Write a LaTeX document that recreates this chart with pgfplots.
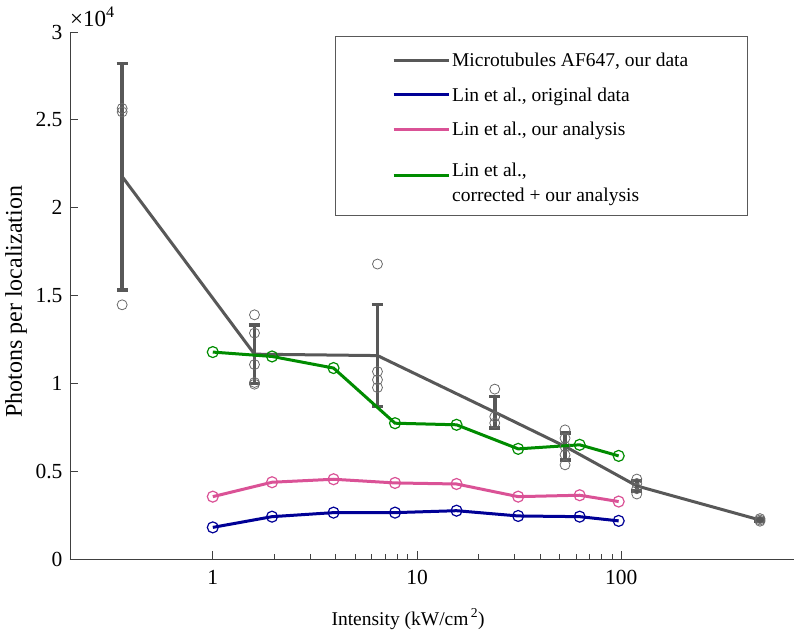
\documentclass[border=0pt]{standalone}
\usepackage{pgfplots}
\pgfplotsset{compat=1.18}
\usepackage{fontspec}
\setmainfont{Liberation Serif}
\definecolor{cgray}{RGB}{88,88,88}
\definecolor{cdot}{RGB}{105,105,105}
\definecolor{cblue}{RGB}{0,0,150}
\definecolor{cpink}{RGB}{218,82,150}
\definecolor{cgreen}{RGB}{0,140,0}
\newcommand\lgd[1]{\rule[-5pt]{0pt}{19pt}#1}

\pgfplotstableread{
x y e
0.36 21770 6450
1.6 11660 1670
6.4 11580 2900
24 8360 900
53 6410 770
119 4160 300
477 2220 80
}\meandata

\pgfplotstableread{
x y
0.36 25650
0.36 25450
0.36 14470
1.6 13900
1.6 12860
1.6 11070
1.6 10050
1.6 9950
6.4 16790
6.4 10670
6.4 10200
6.4 9760
24 9670
24 8100
24 7740
53 7350
53 6880
53 6400
53 5930
53 5360
119 4550
119 4300
119 4000
119 3700
477 2300
477 2220
477 2150
}\scatterdata

\pgfplotstableread{
x blue pink green
1 1800 3550 11780
1.95 2410 4370 11530
3.9 2640 4540 10870
7.8 2640 4330 7730
15.6 2750 4270 7640
31.25 2450 3550 6270
62.5 2410 3630 6500
97 2170 3270 5870
}\lindata

\begin{document}
\begin{tikzpicture}
\useasboundingbox (0,0) rectangle (800pt,635pt);
\begin{axis}[
  scale only axis, width=724pt, height=527pt,
  at={(70pt,76pt)}, anchor=south west,
  xmode=log, xmin=0.2, xmax=700, ymin=0, ymax=30000,
  axis x line=bottom, axis y line=left,
  axis line style={-, black!75, line width=0.9pt},
  tick align=inside, major tick length=8pt, minor tick length=5pt,
  every tick/.style={black!75, line width=0.9pt},
  xtick={1,10,100}, xticklabels={1,10,100},
  ytick={0,5000,10000,15000,20000,25000,30000},
  scaled y ticks=base 10:-4,
  ytick scale label code/.code={×10\textsuperscript{4}},
  every y tick scale label/.style={at={(rel axis cs:0,1)}, anchor=base west, inner sep=0pt, xshift=4pt, yshift=5pt, font=\fontsize{23}{23}\selectfont},
  /pgf/number format/assume math mode=true,
  ticklabel style={font=\fontsize{21.5}{21.5}\selectfont},
  yticklabel style={xshift=-4pt},
  xticklabel style={yshift=-8pt},
  xlabel={Intensity (kW/cm\textsuperscript{\,2})},
  xlabel style={at={(rel axis cs:0.467,0)}, anchor=base, yshift=-66pt, font=\fontsize{19.5}{19.5}\selectfont},
  ylabel={Photons per localization},
  ylabel style={at={(rel axis cs:0,0.488)}, anchor=center, yshift=54pt, font=\fontsize{24}{24}\selectfont},
  legend style={at={(rel axis cs:0.936,0.992)}, anchor=north east, draw=black!65, line width=0.8pt, fill=white,
    inner xsep=57pt, inner ysep=14pt, row sep=15pt, column sep=0pt, font=\fontsize{19.5}{25}\selectfont},
  legend cell align=left,
  legend image code/.code={\draw[#1, mark=none, line width=3pt] (0pt,0pt) -- (55pt,0pt);},
]
\addplot[cgray, line width=3pt, mark=none,
  error bars/.cd, y dir=both, y explicit, error mark=-,
  error bar style={line width=3.5pt, cgray},
  error mark options={rotate=90, cgray, line width=3.5pt, mark size=5.5pt}]
  table[x=x, y=y, y error=e] {\meandata};
\addlegendentry{\lgd{Microtubules AF647, our data}}
\addplot[only marks, mark=o, mark size=5pt, cdot, mark options={line width=0.8pt}, forget plot]
  table[x=x, y=y] {\scatterdata};
\addplot[cblue, line width=3pt, mark=o, mark size=5.5pt, mark options={line width=1.2pt}]
  table[x=x, y=blue] {\lindata};
\addlegendentry{\lgd{Lin et al., original data}}
\addplot[cpink, line width=3pt, mark=o, mark size=5.5pt, mark options={line width=1.2pt}]
  table[x=x, y=pink] {\lindata};
\addlegendentry{\lgd{Lin et al., our analysis}}
\addplot[cgreen, line width=3pt, mark=o, mark size=5.5pt, mark options={line width=1.2pt},
  legend image post style={yshift=2.5pt}]
  table[x=x, y=green] {\lindata};
\addlegendentry{\lgd{\begin{tabular}[c]{@{}l@{}}\rule{0pt}{20pt}Lin et al.,\\ corrected + our analysis\rule[-28.5pt]{0pt}{0pt}\end{tabular}}}
\end{axis}
\end{tikzpicture}
\end{document}
